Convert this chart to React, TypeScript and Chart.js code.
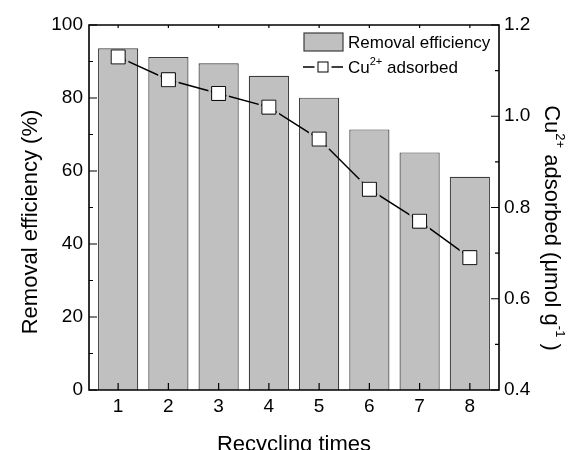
import React, { useEffect, useRef } from 'react';
import { Chart, registerables } from 'chart.js';

Chart.register(...registerables);

const FONT = "'Liberation Sans', Arial, Helvetica, sans-serif";

// ---- data ----
const cycles = [1, 2, 3, 4, 5, 6, 7, 8];
const removalEfficiency = [93.6, 91.2, 89.5, 86.1, 80.1, 71.4, 65.1, 58.4];
const cuAdsorbed = [1.13, 1.08, 1.05, 1.02, 0.95, 0.84, 0.77, 0.69];

// ---- tick values ----
const leftMajorTicks = [0, 20, 40, 60, 80, 100];
const leftMinorTicks = [10, 30, 50, 70, 90];
const rightMajorTicks = [0.4, 0.6, 0.8, 1.0, 1.2];
const rightMinorTicks = [0.5, 0.7, 0.9, 1.1];

const legendLabels = ['Removal efficiency', 'Cu', '2+', ' adsorbed'];

type Part = { t: string; sup?: boolean };

function drawRich(
  ctx: CanvasRenderingContext2D,
  parts: Part[],
  x: number,
  y: number,
  size: number,
  supSize: number,
  supRise: number,
  align: 'left' | 'center'
) {
  const widths = parts.map((p) => {
    ctx.font = `${p.sup ? supSize : size}px ${FONT}`;
    return ctx.measureText(p.t).width;
  });
  const total = widths.reduce((s, w) => s + w, 0);
  let cx = align === 'center' ? x - total / 2 : x;
  ctx.textAlign = 'left';
  ctx.textBaseline = 'alphabetic';
  parts.forEach((p, i) => {
    ctx.font = `${p.sup ? supSize : size}px ${FONT}`;
    ctx.fillText(p.t, cx, p.sup ? y - supRise : y);
    cx += widths[i];
  });
}

const lineGapPlugin = {
  id: 'lineGap',
  beforeDatasetDraw(chart: any, args: any) {
    const ds = chart.data.datasets[args.index];
    if (ds.type !== 'line') return;
    const ctx = chart.ctx as CanvasRenderingContext2D;
    ctx.save();
    ctx.beginPath();
    ctx.rect(0, 0, chart.width, chart.height);
    args.meta.data.forEach((pt: any) => {
      const h = 10.2;
      const m = 7.8;
      ctx.rect(pt.x - h, pt.y - h, 2 * h, 2 * h);
      ctx.rect(pt.x - m, pt.y - m, 2 * m, 2 * m);
    });
    ctx.clip('evenodd');
    ctx.beginPath();
  },
  afterDatasetDraw(chart: any, args: any) {
    const ds = chart.data.datasets[args.index];
    if (ds.type !== 'line') return;
    chart.ctx.restore();
  },
};

function drawFrame(chart: any) {
  const { ctx, chartArea: a, scales } = chart;
  const sx = scales.x;
  const sy = scales.y;
  const sy1 = scales.y1;
  ctx.save();
  ctx.setLineDash([]);
  ctx.strokeStyle = '#000';
  ctx.lineWidth = 1.2;
  ctx.beginPath();
  leftMajorTicks.forEach((v) => {
    const p = sy.getPixelForValue(v);
    ctx.moveTo(a.left, p);
    ctx.lineTo(a.left + 8, p);
  });
  leftMinorTicks.forEach((v) => {
    const p = sy.getPixelForValue(v);
    ctx.moveTo(a.left, p);
    ctx.lineTo(a.left + 4, p);
  });
  rightMajorTicks.forEach((v) => {
    const p = sy1.getPixelForValue(v);
    ctx.moveTo(a.right, p);
    ctx.lineTo(a.right - 8, p);
  });
  rightMinorTicks.forEach((v) => {
    const p = sy1.getPixelForValue(v);
    ctx.moveTo(a.right, p);
    ctx.lineTo(a.right - 4, p);
  });
  cycles.forEach((v) => {
    const p = sx.getPixelForValue(v);
    ctx.moveTo(p, a.bottom);
    ctx.lineTo(p, a.bottom - 7);
    ctx.moveTo(p, a.top);
    ctx.lineTo(p, a.top + 3);
  });
  ctx.stroke();
  ctx.lineWidth = 1.6;
  ctx.beginPath();
  ctx.moveTo(a.left, a.top);
  ctx.lineTo(a.right, a.top);
  ctx.lineTo(a.right, a.bottom);
  ctx.lineTo(a.left, a.bottom);
  ctx.closePath();
  ctx.stroke();
  ctx.restore();
}

const annotationPlugin = {
  id: 'titlesLegend',
  afterDraw(chart: any) {
    const { ctx, chartArea: a } = chart;
    const barDs = chart.data.datasets[1];
    const lineDs = chart.data.datasets[0];

    drawFrame(chart);

    ctx.save();
    ctx.fillStyle = '#000';

    // left title
    ctx.save();
    ctx.translate(a.left - 52.3, 222);
    ctx.rotate(-Math.PI / 2);
    ctx.font = `22px ${FONT}`;
    ctx.textAlign = 'center';
    ctx.textBaseline = 'alphabetic';
    ctx.fillText('Removal efficiency (%)', 0, 0);
    ctx.restore();

    // bottom title
    ctx.font = `22px ${FONT}`;
    ctx.textAlign = 'center';
    ctx.textBaseline = 'alphabetic';
    ctx.fillText('Recycling times', (a.left + a.right) / 2, a.bottom + 61);

    // right title
    ctx.save();
    ctx.translate(a.right + 46, 228);
    ctx.rotate(Math.PI / 2);
    drawRich(
      ctx,
      [
        { t: 'Cu' },
        { t: '2+', sup: true },
        { t: ' adsorbed (\u03bcmol g' },
        { t: '-1', sup: true },
        { t: ' )' },
      ],
      0,
      0,
      22,
      13,
      11,
      'center'
    );
    ctx.restore();

    // legend
    const bx = a.right - 195;
    const r1 = a.top + 17;
    const r2 = a.top + 42;
    ctx.fillStyle = barDs.backgroundColor;
    ctx.fillRect(bx, r1 - 9, 39, 18);
    ctx.strokeStyle = barDs.borderColor;
    ctx.lineWidth = 1.2;
    ctx.strokeRect(bx, r1 - 9, 39, 18);
    ctx.fillStyle = '#000';
    ctx.font = `17px ${FONT}`;
    ctx.textAlign = 'left';
    ctx.textBaseline = 'alphabetic';
    ctx.fillText(legendLabels[0], a.right - 151, r1 + 6);

    const lx0 = a.right - 196;
    const lx1 = a.right - 156;
    const mc = (lx0 + lx1) / 2;
    ctx.strokeStyle = lineDs.borderColor;
    ctx.lineWidth = 1.5;
    ctx.beginPath();
    ctx.moveTo(lx0, r2);
    ctx.lineTo(mc - 8.5, r2);
    ctx.moveTo(mc + 8.5, r2);
    ctx.lineTo(lx1, r2);
    ctx.stroke();
    ctx.fillStyle = '#fff';
    ctx.fillRect(mc - 5, r2 - 5, 10, 10);
    ctx.lineWidth = 1;
    ctx.strokeStyle = '#000';
    ctx.strokeRect(mc - 5, r2 - 5, 10, 10);
    ctx.fillStyle = '#000';
    drawRich(
      ctx,
      [{ t: legendLabels[1] }, { t: legendLabels[2], sup: true }, { t: legendLabels[3] }],
      a.right - 151,
      r2 + 6,
      17,
      11,
      8,
      'left'
    );
    ctx.restore();
  },
};

export default function App() {
  const canvasRef = useRef<HTMLCanvasElement | null>(null);

  useEffect(() => {
    document.body.style.margin = '0';
    const canvas = canvasRef.current;
    if (!canvas) return;
    const tickFont = { family: FONT, size: 19 };
    const noGrid = { display: false, drawTicks: false, tickLength: 0 };
    const chart = new Chart(canvas, {
      type: 'bar',
      data: {
        datasets: [
          {
            type: 'line',
            label: 'Cu2+ adsorbed',
            data: cycles.map((c, i) => ({ x: c, y: cuAdsorbed[i] })),
            yAxisID: 'y1',
            xAxisID: 'x',
            borderColor: '#000',
            borderWidth: 1.5,
            tension: 0,
            pointStyle: 'rect',
            pointRadius: 9.9,
            pointHoverRadius: 9.9,
            pointBackgroundColor: '#fff',
            pointBorderColor: '#000',
            pointBorderWidth: 1,
            order: 0,
          } as any,
          {
            type: 'bar',
            label: 'Removal efficiency',
            data: cycles.map((c, i) => ({ x: c, y: removalEfficiency[i] })),
            yAxisID: 'y',
            xAxisID: 'x',
            backgroundColor: '#c0c0c0',
            borderColor: '#3c3c3c',
            borderWidth: 1.2,
            barPercentage: 0.8,
            categoryPercentage: 1,
            order: 1,
          } as any,
        ],
      },
      options: {
        responsive: false,
        animation: false,
        devicePixelRatio: 1,
        layout: { padding: { top: 25, left: 0, right: 0, bottom: 0 } },
        plugins: {
          legend: { display: false },
          tooltip: { enabled: false },
        },
        scales: {
          x: {
            type: 'linear',
            position: 'bottom',
            min: 0.42,
            max: 8.58,
            offset: false,
            grid: noGrid,
            border: { display: false },
            afterBuildTicks: (s: any) => {
              s.ticks = cycles.map((v) => ({ value: v }));
            },
            ticks: { font: tickFont, color: '#000', padding: 5, maxRotation: 0 },
            afterFit: (s: any) => {
              s.height = 60;
            },
          },
          y: {
            type: 'linear',
            position: 'left',
            min: 0,
            max: 100,
            grid: noGrid,
            border: { display: false },
            ticks: { font: tickFont, color: '#000', stepSize: 20, padding: 6 },
            afterFit: (s: any) => {
              s.width = 89;
            },
          },
          y1: {
            type: 'linear',
            position: 'right',
            min: 0.4,
            max: 1.2,
            grid: noGrid,
            border: { display: false },
            ticks: {
              font: tickFont,
              color: '#000',
              stepSize: 0.2,
              padding: 5,
              callback: (v: any) => Number(v).toFixed(1),
            },
            afterFit: (s: any) => {
              s.width = 70;
            },
          },
        },
      } as any,
      plugins: [lineGapPlugin, annotationPlugin],
    });
    return () => chart.destroy();
  }, []);

  return (
    <div style={{ width: 569, height: 450 }}>
      <canvas ref={canvasRef} width={569} height={450} />
    </div>
  );
}
